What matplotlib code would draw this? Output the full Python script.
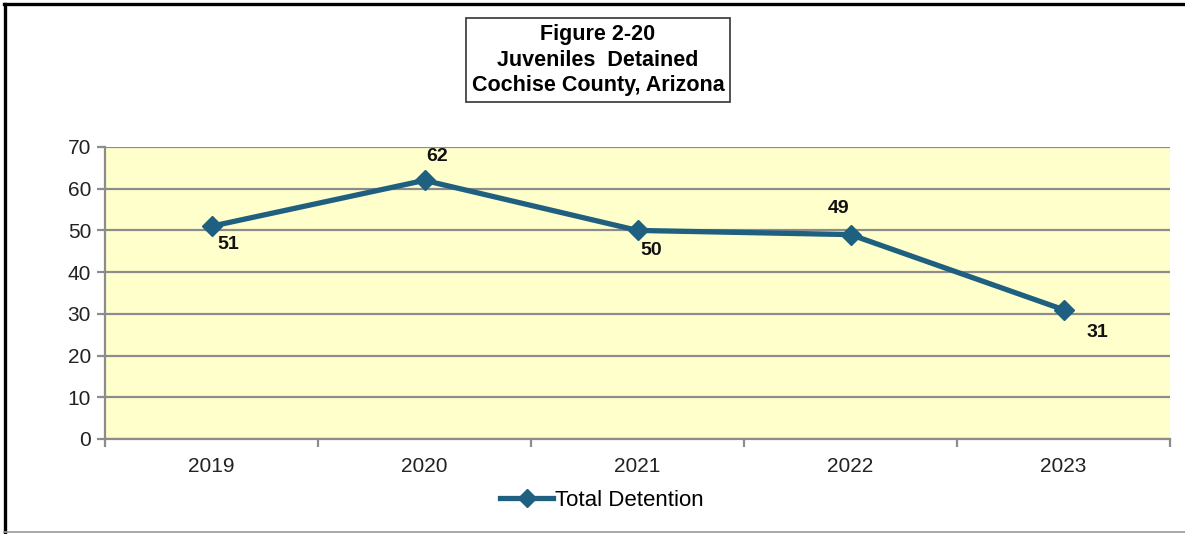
import matplotlib
matplotlib.use("Agg")
import matplotlib.pyplot as plt
from matplotlib.lines import Line2D

years = ["2019", "2020", "2021", "2022", "2023"]
detained = [51, 62, 50, 49, 31]
label_offsets = [(17, -18), (13, 24), (14, -20), (-12, 26), (34, -23)]
series_name = "Total Detention"
title_lines = ["Figure 2-20", "Juveniles  Detained", "Cochise County, Arizona"]

plt.rcParams['font.family'] = ['Liberation Sans', 'DejaVu Sans']

W, H = 1185, 534
fig = plt.figure(figsize=(W / 100, H / 100), dpi=100)

line_color = "#1F5F80"
grid_color = "#8C8C8C"

ax = fig.add_axes([105 / W, (H - 439) / H, 1065 / W, 292 / H])
ax.set_facecolor("#FFFFCC")
x = list(range(len(years)))
ax.plot(x, detained, color=line_color, lw=3.8, marker="D", ms=10,
        markerfacecolor=line_color, markeredgecolor=line_color, zorder=3)
ax.set_xlim(-0.5, len(years) - 0.5)
ax.set_ylim(0, 70)
ax.set_yticks(range(0, 71, 10))
ax.yaxis.grid(True, color=grid_color, lw=1.6)
ax.set_axisbelow(True)
ax.set_xticks(x)
ax.set_xticklabels(years)
ax.tick_params(axis="x", length=0, labelsize=15, pad=13, colors="#222222")
ax.set_xticks([i - 0.5 for i in range(len(years) + 1)], minor=True)
ax.tick_params(axis="x", which="minor", length=6, width=1.6, color=grid_color)
ax.tick_params(axis="y", length=6, width=1.6, color=grid_color, labelsize=15,
               pad=4, labelcolor="#222222")
for s in ["top", "right"]:
    ax.spines[s].set_visible(False)
for s in ["left", "bottom"]:
    ax.spines[s].set_color(grid_color)
    ax.spines[s].set_linewidth(1.6)

for xi, yi, (dx, dy) in zip(x, detained, label_offsets):
    ax.annotate(str(yi), (xi, yi), xytext=(dx * 0.72, dy * 0.72),
                textcoords="offset points", ha="center", va="center",
                fontsize=14, fontweight="bold", color="#111111")

# Title box
fig.text(598 / W, 1 - 60 / H, "\n".join(title_lines), ha="center", va="center",
         fontsize=15.5, fontweight="bold", linespacing=1.3,
         bbox=dict(boxstyle="square,pad=0.27", facecolor="white",
                   edgecolor="#333333", lw=1.2))

# Legend
fig.legend([Line2D([0], [0], color=line_color, lw=3.8, marker="D", ms=9)],
           [series_name], loc="center", bbox_to_anchor=(602 / W, 1 - 500 / H),
           frameon=False, fontsize=16, handlelength=2.4, handletextpad=0.1)

# Outer border: black left and top, grey bottom
fig.add_artist(Line2D([5 / W, 5 / W], [0, 1 - 4 / H], transform=fig.transFigure,
                      color="black", lw=2.4))
fig.add_artist(Line2D([4 / W, 1], [1 - 4 / H, 1 - 4 / H], transform=fig.transFigure,
                      color="black", lw=2.4))
fig.add_artist(Line2D([4 / W, 1], [2 / H, 2 / H], transform=fig.transFigure,
                      color="#9A9A9A", lw=1.2))

fig.savefig("out.png", dpi=100)
